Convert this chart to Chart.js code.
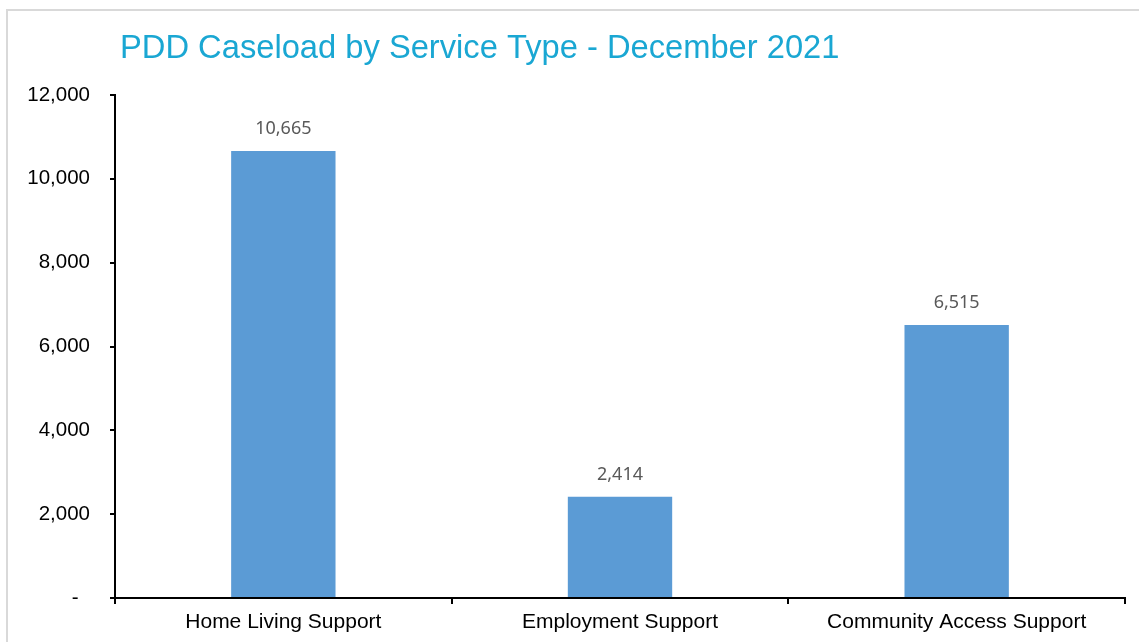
<!DOCTYPE html>
<html>
<head>
<meta charset="utf-8">
<script src="https://cdn.jsdelivr.net/npm/chart.js@4.4.0/dist/chart.umd.min.js"></script>
<style>
  html, body { margin: 0; padding: 0; background: #fff; }
  #wrap { width: 1139px; height: 642px; position: relative; }
</style>
</head>
<body>
<div id="wrap"><canvas id="chart"></canvas></div>
<script>
// data
const categories = ['Home Living Support', 'Employment Support', 'Community Access Support'];
const caseload = [10665, 2414, 6515];
const yTicks = [0, 2000, 4000, 6000, 8000, 10000, 12000];
const chartTitle = 'PDD Caseload by Service Type - December 2021';

function fmt(v) {
    if (v === 0) return '-  ';
    return v.toLocaleString('en-US');
}

// light grey frame around the whole chart
const framePlugin = {
    id: 'frame',
    beforeDraw: function(chart) {
        const ctx = chart.ctx;
        ctx.save();
        ctx.strokeStyle = '#d9d9d9';
        ctx.lineWidth = 2;
        ctx.strokeRect(7, 10, 1300, 800);
        ctx.restore();
    }
};

// title, left aligned like the original
const titlePlugin = {
    id: 'leftTitle',
    afterDraw: function(chart) {
        const ctx = chart.ctx;
        ctx.save();
        ctx.fillStyle = '#1aa7d3';
        ctx.font = '32.7px "Liberation Sans", Arial, sans-serif';
        ctx.textAlign = 'left';
        ctx.textBaseline = 'alphabetic';
        ctx.fillText(chartTitle, 120, 58);
        ctx.restore();
    }
};

// value labels over the bars
const valueLabels = {
    id: 'valueLabels',
    afterDatasetsDraw: function(chart) {
        const ctx = chart.ctx;
        const meta = chart.getDatasetMeta(0);
        ctx.save();
        ctx.fillStyle = '#595959';
        ctx.font = '18px "Noto Sans", sans-serif';
        ctx.textAlign = 'center';
        ctx.textBaseline = 'alphabetic';
        meta.data.forEach(function(bar, i) {
            ctx.fillText(fmt(caseload[i]), bar.x, bar.y - 17);
        });
        ctx.restore();
    }
};

new Chart(document.getElementById('chart'), {
    type: 'bar',
    data: {
        labels: categories,
        datasets: [{
            data: caseload,
            backgroundColor: '#5b9bd5',
            borderWidth: 0,
            categoryPercentage: 1,
            barPercentage: 0.31
        }]
    },
    options: {
        responsive: true,
        maintainAspectRatio: false,
        animation: false,
        layout: { padding: { top: 95, right: 14, bottom: 0, left: 0 } },
        plugins: {
            legend: { display: false },
            title: { display: false },
            tooltip: { enabled: false }
        },
        scales: {
            x: {
                afterFit: function(s) { s.height = 44; },
                border: { display: true, color: '#000', width: 2 },
                grid: {
                    offset: true,
                    drawOnChartArea: false,
                    drawTicks: true,
                    tickLength: 6,
                    color: '#000',
                    lineWidth: 2
                },
                ticks: {
                    color: '#000',
                    padding: 6,
                    font: { family: '"Liberation Sans", Arial, sans-serif', size: 21 }
                }
            },
            y: {
                min: 0,
                max: 12000,
                afterFit: function(s) { s.width = 115; },
                afterBuildTicks: function(s) {
                    s.ticks = yTicks.map(function(v) { return { value: v }; });
                },
                border: { display: true, color: '#000', width: 2 },
                grid: {
                    drawOnChartArea: false,
                    drawTicks: true,
                    tickLength: 5,
                    color: '#000',
                    lineWidth: 2
                },
                ticks: {
                    color: '#000',
                    padding: 20,
                    callback: function(v) { return fmt(v); },
                    font: { family: '"Liberation Sans", Arial, sans-serif', size: 20.5 }
                }
            }
        }
    },
    plugins: [framePlugin, titlePlugin, valueLabels]
});
</script>
</body>
</html>
